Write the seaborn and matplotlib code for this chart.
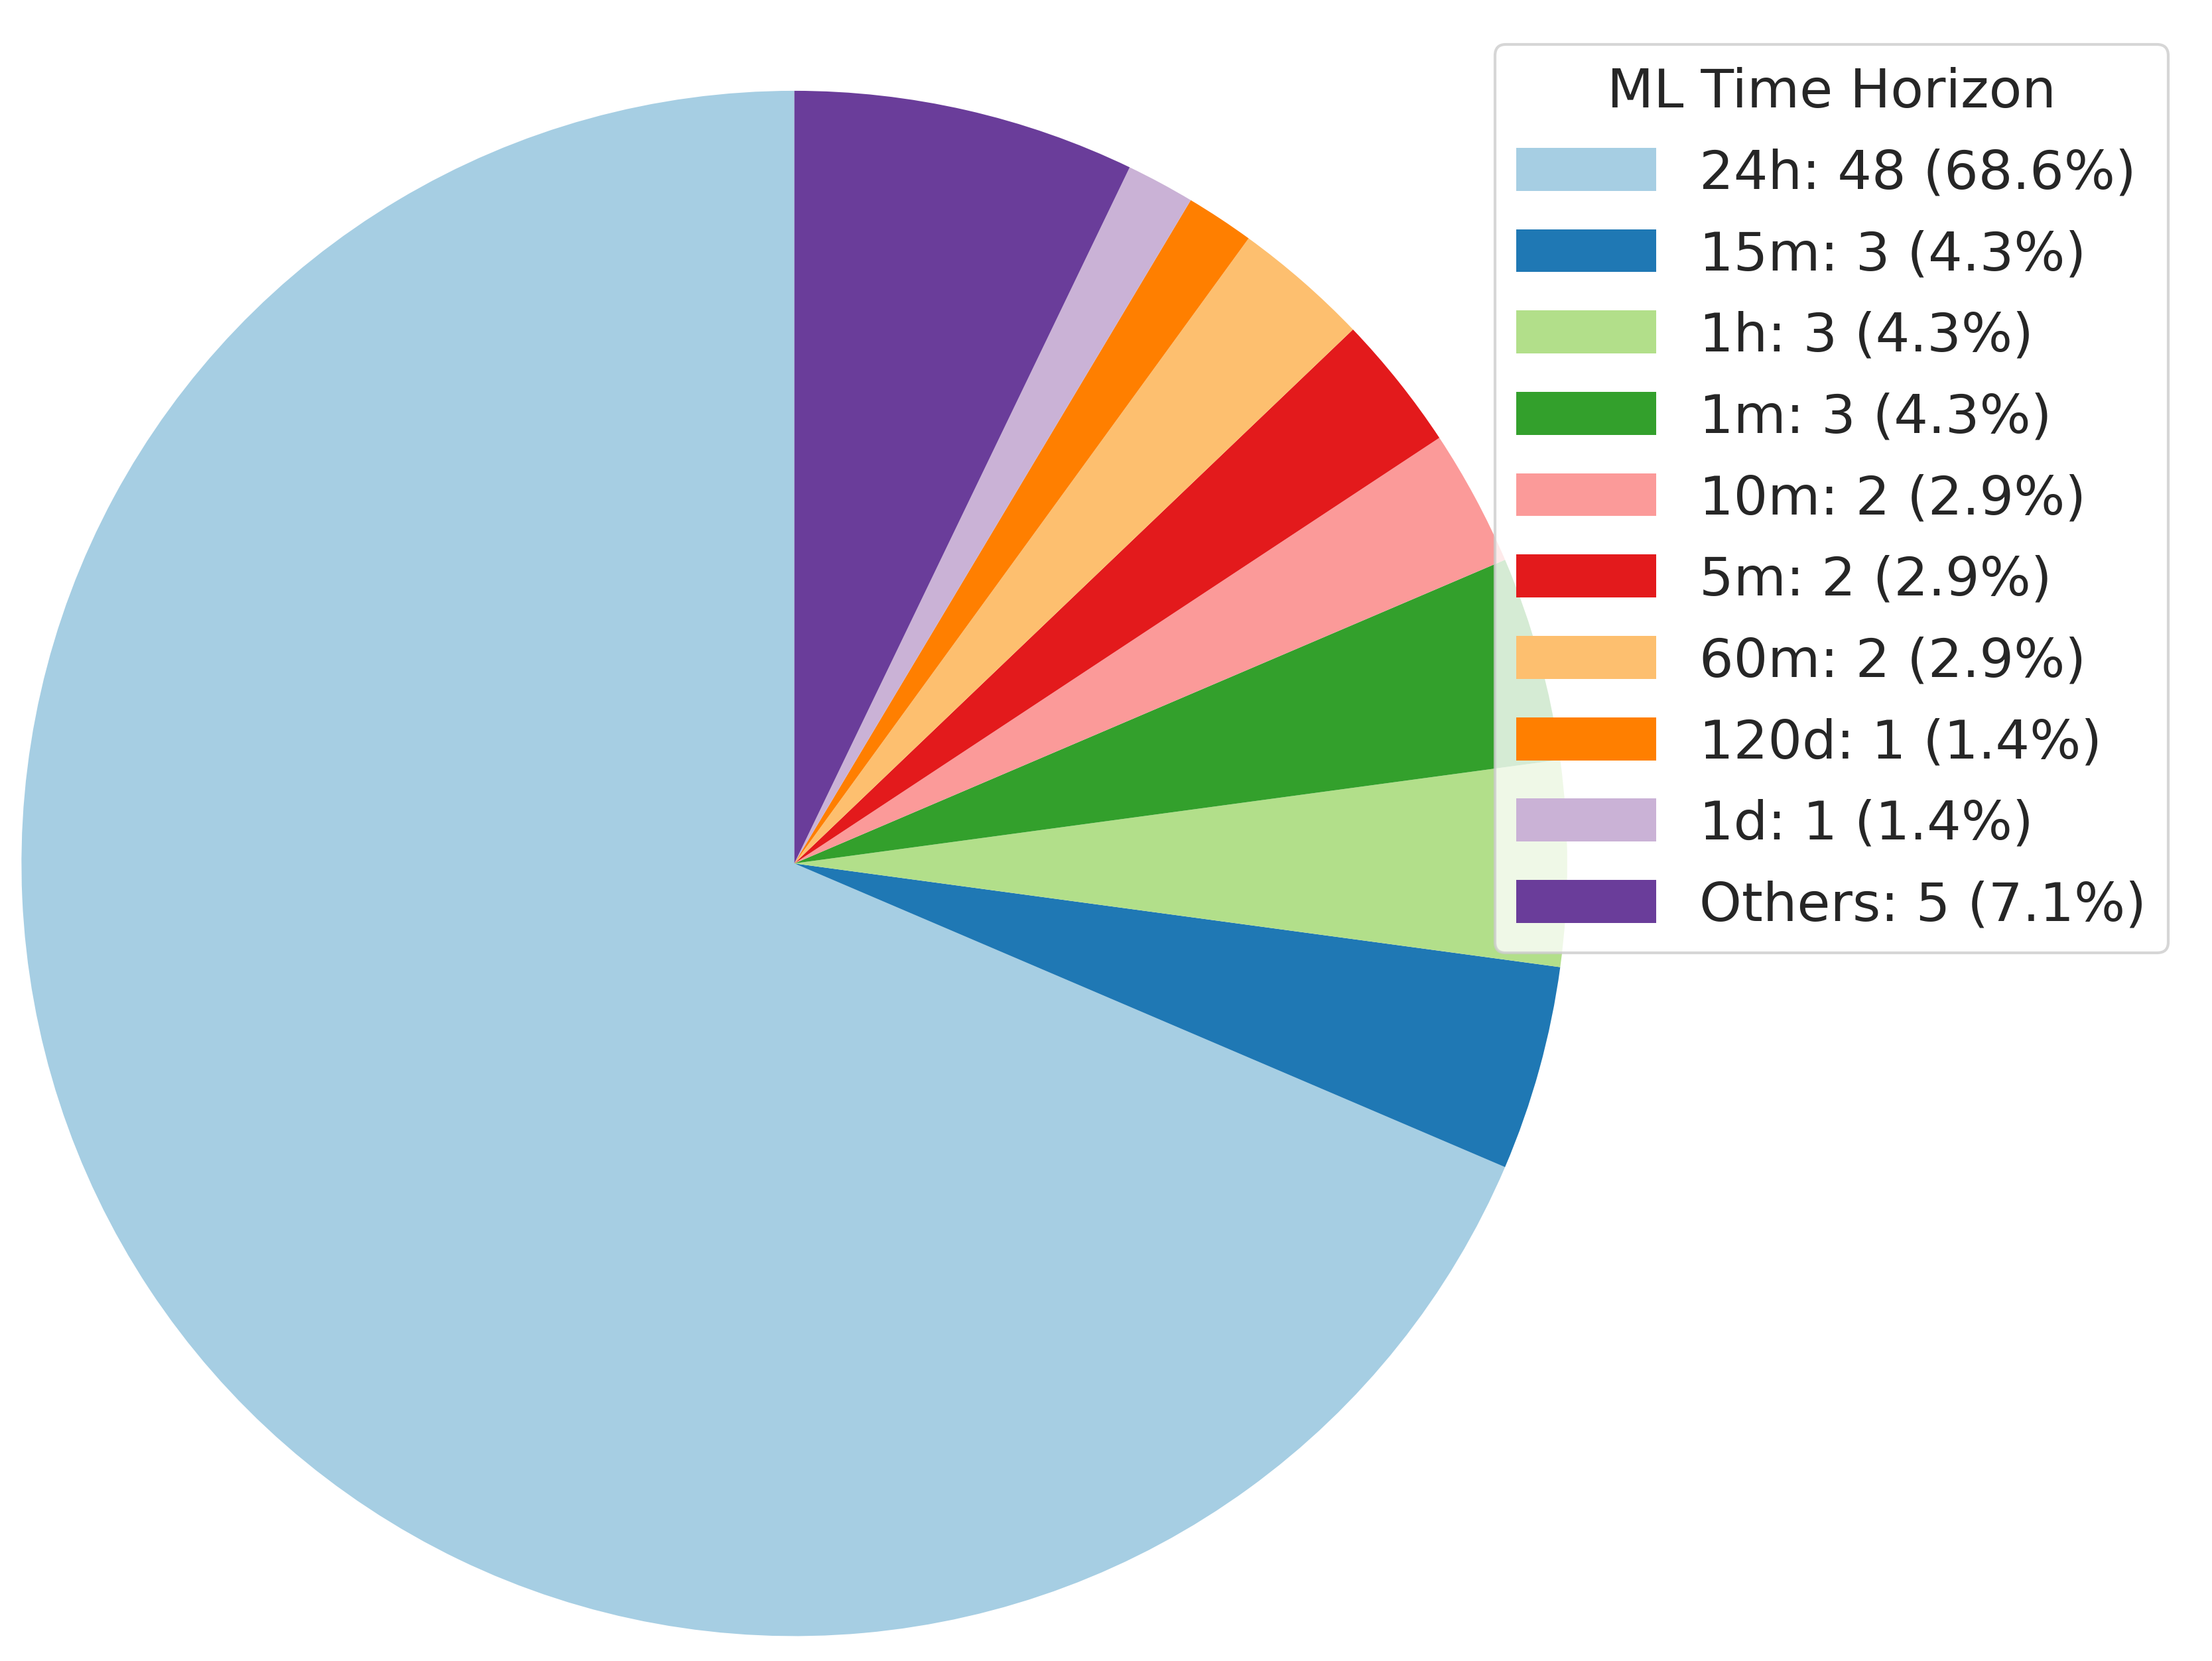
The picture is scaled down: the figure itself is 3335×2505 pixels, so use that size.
import matplotlib
matplotlib.use("Agg")
import matplotlib.pyplot as plt
import seaborn as sns

sns.set_theme(style="white")
plt.rcParams['font.family'] = ['DejaVu Sans']

labels = ["24h", "15m", "1h", "1m", "10m", "5m", "60m", "120d", "1d", "Others"]
counts = [48, 3, 3, 3, 2, 2, 2, 1, 1, 5]
total = sum(counts)

colors = sns.color_palette("Paired", 10)

fig = plt.figure(figsize=(11.12, 8.353), dpi=300)
ax = fig.add_axes([0.0095, 0.015, 0.699, 0.93])
wedges, _ = ax.pie(counts, colors=colors, startangle=90, wedgeprops={"linewidth": 0})
ax.set_xlim(-1, 1)
ax.set_ylim(-1, 1)
ax.set_aspect("equal")

legend_labels = [f"{l}: {c} ({c / total * 100:.1f}%)" for l, c in zip(labels, counts)]
fig.legend(wedges, legend_labels, title="ML Time Horizon", loc="upper right",
           bbox_to_anchor=(0.992, 0.989), fontsize=19.5, title_fontsize=19.5,
           handlelength=2.6, handleheight=0.85, labelspacing=0.55, frameon=True,
           framealpha=0.8)

fig.savefig("out.png", dpi=300)
